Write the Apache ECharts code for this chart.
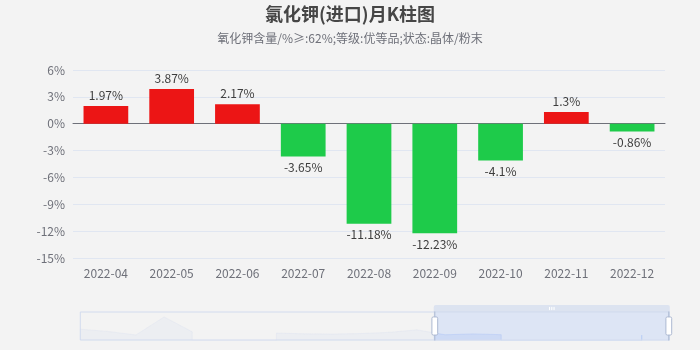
<!DOCTYPE html>
<html>
<head>
<meta charset="utf-8">
<script src="https://cdn.jsdelivr.net/npm/echarts@6/dist/echarts.min.js"></script>
<style>
  html, body { margin: 0; padding: 0; background: #f3f3f3; }
  #chart { width: 700px; height: 350px; }
</style>
</head>
<body>
<div id="chart"></div>
<script>
// Monthly price change (%) of imported potassium chloride
const months = [
  '2021-03', '2021-04', '2021-05', '2021-06', '2021-07', '2021-08', '2021-09',
  '2021-10', '2021-11', '2021-12', '2022-01', '2022-02', '2022-03',
  '2022-04', '2022-05', '2022-06', '2022-07', '2022-08', '2022-09',
  '2022-10', '2022-11', '2022-12'
];
const changes = [
  14.3, 9.3, 1.5, 41.3, 8.5, -2.4, -1.1,
  5.7, 4.0, 3.4, 4.7, 7.2, 12.8,
  1.97, 3.87, 2.17, -3.65, -11.18, -12.23,
  -4.1, 1.3, -0.86
];

// Value axis range
const yMin = -15;
const yMax = 6;
const yStep = 3;

// Split into rising (red) and falling (green) series
const rising = changes.map(v => (v > 0 ? v : '-'));
const falling = changes.map(v => (v < 0 ? v : '-'));

const FONT = '"Noto Sans CJK SC", "Noto Sans", sans-serif';
const chart = echarts.init(document.getElementById('chart'));

chart.setOption({
  backgroundColor: '#f3f3f3',
  animation: false,
  textStyle: { fontFamily: FONT },
  title: {
    text: '氯化钾(进口)月K柱图',
    subtext: '氧化钾含量/%≥:62%;等级:优等品;状态:晶体/粉末',
    left: 'center',
    top: 0,
    itemGap: 9,
    textStyle: { fontSize: 18, fontWeight: 'bold', color: '#464646', fontFamily: FONT },
    subtextStyle: { fontSize: 12, color: '#6e7079', fontFamily: FONT }
  },
  grid: {
    left: 73, right: 35, top: 70, bottom: 92,
    containLabel: false,
    outerBoundsMode: 'none'
  },
  xAxis: {
    type: 'category',
    data: months,
    axisLine: { onZero: true, lineStyle: { color: '#6e7079' } },
    axisTick: { length: 5 },
    axisLabel: { margin: 9, fontSize: 12, color: '#6e7079' }
  },
  yAxis: {
    type: 'value',
    min: yMin,
    max: yMax,
    interval: yStep,
    axisLabel: { formatter: '{value}%', fontSize: 12, color: '#6e7079' },
    splitLine: { lineStyle: { color: '#e0e6f1' } }
  },
  dataZoom: [{
    type: 'slider',
    xAxisIndex: 0,
    start: 60,
    end: 100,
    left: 77,
    right: 33,
    top: 305,
    height: 29,
    borderColor: '#d2dbee',
    fillerColor: 'rgba(135,175,274,0.2)',
    dataBackground: {
      lineStyle: { color: '#d2dbee', width: 0.5, opacity: 0.5 },
      areaStyle: { color: '#d2dbee', opacity: 0.2 }
    },
    selectedDataBackground: {
      lineStyle: { color: '#8fb0f7', width: 0.5, opacity: 0.5 },
      areaStyle: { color: '#8fb0f7', opacity: 0.2 }
    },
    handleStyle: { color: '#fff', borderColor: '#acb8d1' },
    moveHandleStyle: { color: '#d2dbee', opacity: 0.7 }
  }],
  series: [
    {
      name: '涨',
      type: 'bar',
      data: rising,
      barWidth: '68%',
      barGap: '-100%',
      itemStyle: { color: '#ec1515' },
      label: {
        show: true,
        position: 'top',
        formatter: '{c}%',
        fontSize: 12,
        color: '#3d3d3d'
      }
    },
    {
      name: '跌',
      type: 'bar',
      data: falling,
      barWidth: '68%',
      barGap: '-100%',
      itemStyle: { color: '#1ecb4a' },
      label: {
        show: true,
        position: 'bottom',
        formatter: '{c}%',
        fontSize: 12,
        color: '#3d3d3d'
      }
    }
  ]
});
</script>
</body>
</html>
